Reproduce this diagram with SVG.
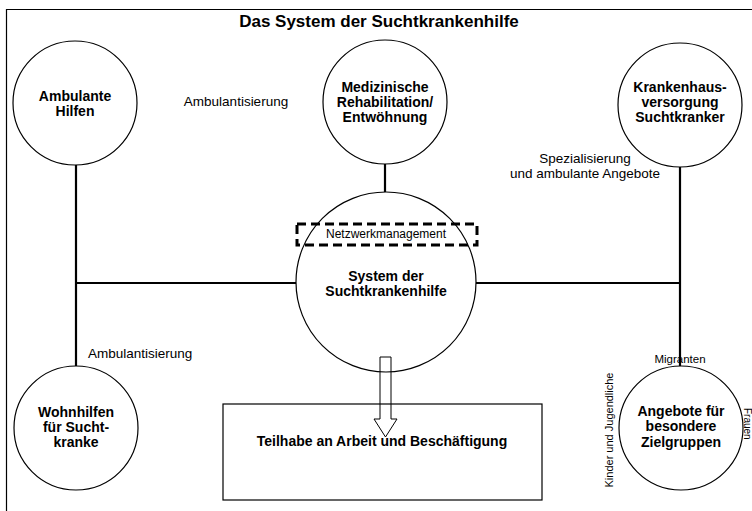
<svg xmlns="http://www.w3.org/2000/svg" width="752" height="511" viewBox="0 0 752 511">
<style>
text{font-family:"Liberation Sans",Arial,sans-serif;fill:#000}
.n{font-size:14px;font-weight:bold;text-anchor:middle}
.l{font-size:13.5px}
.s{font-size:11px}
.c{fill:#fff;stroke:#000;stroke-width:1.2}
.k{stroke:#000;stroke-width:2.2;fill:none}
</style>
<rect x="0" y="0" width="752" height="511" fill="#fff"/>
<path d="M6.5 511V9.5H752" fill="none" stroke="#000" stroke-width="1.2"/>
<text x="379" y="27" font-size="17" font-weight="bold" text-anchor="middle">Das System der Suchtkrankenhilfe</text>
<g id="connectors">
<path class="k" d="M76 165V367M76 283H296M385 163V192M476 283H680M680 167V366"/>
</g>
<g id="ambulante">
<circle class="c" cx="75" cy="103" r="62"/>
<text class="n" x="75" y="101">Ambulante</text>
<text class="n" x="75" y="116">Hilfen</text>
</g>
<g id="medizinische">
<circle class="c" cx="385" cy="102" r="62"/>
<text class="n" x="385" y="92">Medizinische</text>
<text class="n" x="385" y="107">Rehabilitation/</text>
<text class="n" x="385" y="122">Entwöhnung</text>
</g>
<g id="krankenhaus">
<circle class="c" cx="680" cy="105" r="62"/>
<text class="n" x="680" y="92">Krankenhaus-</text>
<text class="n" x="680" y="107">versorgung</text>
<text class="n" x="680" y="122">Suchtkranker</text>
</g>
<g id="system">
<circle class="c" cx="386" cy="282" r="90"/>
<rect x="297" y="224" width="180" height="21" fill="none" stroke="#000" stroke-width="3" stroke-dasharray="9,5"/>
<text x="386" y="238" font-size="12" text-anchor="middle">Netzwerkmanagement</text>
<text class="n" x="386" y="281">System der</text>
<text class="n" x="386" y="296">Suchtkrankenhilfe</text>
</g>
<g id="wohnhilfen">
<circle class="c" cx="76" cy="428" r="62"/>
<text class="n" x="76" y="417">Wohnhilfen</text>
<text class="n" x="76" y="432">für Sucht-</text>
<text class="n" x="76" y="447">kranke</text>
</g>
<g id="angebote">
<circle class="c" cx="681" cy="428" r="62"/>
<text class="n" x="681" y="416">Angebote für</text>
<text class="n" x="681" y="431">besondere</text>
<text class="n" x="681" y="447">Zielgruppen</text>
</g>
<g id="teilhabe">
<rect x="223" y="404" width="319" height="96" fill="#fff" stroke="#000" stroke-width="1.2"/>
<text class="n" x="382" y="446">Teilhabe an Arbeit und Beschäftigung</text>
</g>
<g id="arrow">
<path d="M380 357H391V419H397L385.5 437L374 419H380Z" fill="none" stroke="#000" stroke-width="1"/>
</g>
<g id="labels">
<text class="l" x="236" y="106" text-anchor="middle">Ambulantisierung</text>
<text class="l" x="88" y="358">Ambulantisierung</text>
<text class="l" x="585" y="163" text-anchor="middle">Spezialisierung</text>
<text class="l" x="585" y="178" text-anchor="middle">und ambulante Angebote</text>
<text x="680" y="363" font-size="11.5" text-anchor="middle">Migranten</text>
<text class="s" text-anchor="middle" transform="translate(613 430) rotate(-90)">Kinder und Jugendliche</text>
<text font-size="10" transform="translate(743.5 408) rotate(90)">Frauen</text>
</g>
</svg>
